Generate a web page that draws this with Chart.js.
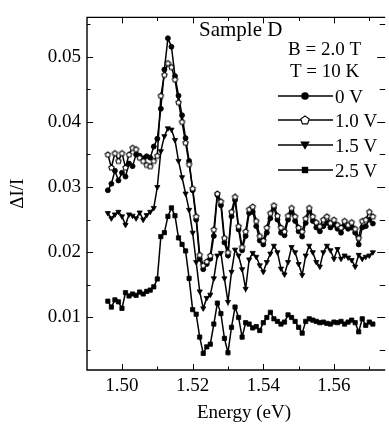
<!DOCTYPE html>
<html><head><meta charset="utf-8">
<script src="https://cdn.jsdelivr.net/npm/chart.js@4/dist/chart.umd.min.js"></script>
<style>html,body{margin:0;padding:0;background:#fff;overflow:hidden}canvas{display:block}</style>
</head><body>
<canvas id="c" width="389" height="425"></canvas>
<script>
// ---- data ----
const energies = [
1.496,1.497,1.498,1.499,1.500,1.501,1.502,1.503,1.504,1.505,
1.506,1.507,1.508,1.509,1.510,1.511,1.512,1.513,1.514,1.515,
1.516,1.517,1.518,1.519,1.520,1.521,1.522,1.523,1.524,1.525,
1.526,1.527,1.528,1.529,1.530,1.531,1.532,1.533,1.534,1.535,
1.536,1.537,1.538,1.539,1.540,1.541,1.542,1.543,1.544,1.545,
1.546,1.547,1.548,1.549,1.550,1.551,1.552,1.553,1.554,1.555,
1.556,1.557,1.558,1.559,1.560,1.561,1.562,1.563,1.564,1.565,
1.566,1.567,1.568,1.569,1.570,1.571];
const v0V = [
0.0295,0.0305,0.0325,0.0310,0.0322,0.0316,0.0336,0.0332,0.0350,0.0348,
0.0344,0.0347,0.0345,0.0362,0.0374,0.0420,0.0480,0.0528,0.0515,0.0470,
0.0440,0.0410,0.0375,0.0340,0.0295,0.0250,0.0190,0.0174,0.0182,0.0190,
0.0225,0.0288,0.0272,0.0215,0.0195,0.0255,0.0280,0.0235,0.0203,0.0225,
0.0260,0.0262,0.0240,0.0218,0.0212,0.0230,0.0252,0.0268,0.0250,0.0230,
0.0226,0.0250,0.0262,0.0248,0.0232,0.0224,0.0245,0.0263,0.0248,0.0238,
0.0232,0.0240,0.0245,0.0238,0.0242,0.0236,0.0230,0.0240,0.0236,0.0238,
0.0230,0.0212,0.0238,0.0240,0.0250,0.0244];
const v1_0V = [
0.0350,0.0330,0.0352,0.0340,0.0352,0.0330,0.0350,0.0360,0.0358,0.0345,
0.0340,0.0334,0.0332,0.0340,0.0348,0.0440,0.0472,0.0490,0.0484,0.0465,
0.0430,0.0400,0.0368,0.0335,0.0298,0.0255,0.0196,0.0180,0.0186,0.0195,
0.0235,0.0290,0.0278,0.0222,0.0200,0.0262,0.0285,0.0240,0.0208,0.0232,
0.0266,0.0270,0.0248,0.0225,0.0218,0.0238,0.0260,0.0272,0.0256,0.0238,
0.0232,0.0256,0.0268,0.0255,0.0238,0.0232,0.0252,0.0268,0.0255,0.0246,
0.0240,0.0250,0.0255,0.0245,0.0250,0.0242,0.0238,0.0248,0.0242,0.0246,
0.0236,0.0222,0.0248,0.0250,0.0262,0.0255];
const v1_5V = [
0.0260,0.0252,0.0258,0.0262,0.0255,0.0242,0.0258,0.0256,0.0252,0.0261,
0.0250,0.0257,0.0262,0.0268,0.0300,0.0355,0.0378,0.0390,0.0388,0.0372,
0.0340,0.0315,0.0290,0.0265,0.0230,0.0185,0.0140,0.0114,0.0130,0.0135,
0.0160,0.0195,0.0199,0.0160,0.0124,0.0170,0.0204,0.0195,0.0174,0.0144,
0.0189,0.0199,0.0193,0.0180,0.0170,0.0185,0.0198,0.0210,0.0200,0.0175,
0.0166,0.0185,0.0208,0.0200,0.0182,0.0165,0.0195,0.0210,0.0200,0.0185,
0.0178,0.0200,0.0210,0.0203,0.0190,0.0205,0.0190,0.0195,0.0192,0.0188,
0.0178,0.0196,0.0190,0.0193,0.0195,0.0200];
const v2_5V = [
0.0125,0.0116,0.0127,0.0124,0.0114,0.0138,0.0133,0.0136,0.0134,0.0139,
0.0136,0.0140,0.0142,0.0147,0.0159,0.0224,0.0230,0.0255,0.0268,0.0256,
0.0222,0.0212,0.0202,0.0160,0.0112,0.0105,0.0070,0.0045,0.0055,0.0059,
0.0090,0.0122,0.0106,0.0068,0.0046,0.0085,0.0116,0.0100,0.0070,0.0092,
0.0090,0.0084,0.0086,0.0080,0.0092,0.0100,0.0108,0.0098,0.0094,0.0090,
0.0093,0.0104,0.0100,0.0094,0.0085,0.0076,0.0094,0.0098,0.0096,0.0094,
0.0092,0.0093,0.0091,0.0090,0.0093,0.0092,0.0094,0.0090,0.0093,0.0096,
0.0092,0.0078,0.0098,0.0088,0.0093,0.0090];
const seriesLabels = ['0 V','1.0 V','1.5 V','2.5 V'];
const xTickValues = [1.50,1.51,1.52,1.53,1.54,1.55,1.56,1.57];
const xTickLabels = ['1.50','','1.52','','1.54','','1.56',''];
const yTickValues = [0.005,0.010,0.015,0.020,0.025,0.030,0.035,0.040,0.045,0.050,0.055];
const yTickLabels = ['','0.01','','0.02','','0.03','','0.04','','0.05',''];
const xTitle = 'Energy (eV)';
const yTitle = 'ΔI/I';
const annotations = ['Sample D','B = 2.0 T','T = 10 K'];

// ---- styling ----
const FONT = "'Liberation Serif','Times New Roman',serif";
Chart.defaults.font.family = FONT;
Chart.defaults.color = '#000';

function pentagon(r){
  const s = Math.ceil(2*r+3);
  const c = document.createElement('canvas'); c.width = s; c.height = s;
  const g = c.getContext('2d');
  g.beginPath();
  for(let k=0;k<5;k++){const a=-Math.PI/2+k*2*Math.PI/5;const px=s/2+r*Math.cos(a),py=s/2+0.3+r*Math.sin(a);k?g.lineTo(px,py):g.moveTo(px,py);}
  g.closePath(); g.fillStyle='#fff'; g.fill(); g.lineWidth=1.1; g.strokeStyle='#000'; g.stroke();
  return c;
}
const pentSmall = pentagon(2.8), pentBig = pentagon(4.4);

const pts = v => energies.map((e,i)=>({x:e,y:v[i]}));
const base = {borderColor:'#000',backgroundColor:'#000',borderWidth:1.5,tension:0,pointBorderWidth:0.8,pointBorderColor:'#000',pointHoverRadius:0};
const datasets = [
  Object.assign({},base,{label:seriesLabels[0],data:pts(v0V),pointStyle:'circle',pointRadius:2.5,pointBackgroundColor:'#000',order:1}),
  Object.assign({},base,{label:seriesLabels[1],data:pts(v1_0V),pointStyle:pentSmall,pointRadius:3,order:0}),
  Object.assign({},base,{label:seriesLabels[2],data:pts(v1_5V),pointStyle:'triangle',pointRotation:180,pointRadius:3,pointBackgroundColor:'#000',order:2}),
  Object.assign({},base,{label:seriesLabels[3],data:pts(v2_5V),pointStyle:'rect',pointRadius:3,pointBackgroundColor:'#000',order:3})
];

const frameTicks = {
  id:'frameTicks',
  afterDraw(chart){
    const {ctx, chartArea:a, scales:{x,y}} = chart;
    ctx.save();
    ctx.strokeStyle='#000'; ctx.lineWidth=1.4;
    ctx.beginPath();
    ctx.moveTo(a.right, a.top); ctx.lineTo(a.left, a.top); ctx.lineTo(a.left, a.bottom); ctx.lineTo(a.right, a.bottom);
    ctx.stroke();
    ctx.lineWidth=1;
    xTickValues.forEach((v,i)=>{
      const px = Math.round(x.getPixelForValue(v))+0.5; const L = xTickLabels[i]?6:3.5;
      ctx.beginPath(); ctx.moveTo(px,a.bottom); ctx.lineTo(px,a.bottom-L);
      ctx.moveTo(px,a.top); ctx.lineTo(px,a.top+L); ctx.stroke();
    });
    yTickValues.forEach((v,i)=>{
      const py = Math.round(y.getPixelForValue(v))+0.5; const L = yTickLabels[i]?6:3.5;
      ctx.beginPath(); ctx.moveTo(a.left,py); ctx.lineTo(a.left+L,py);
      ctx.moveTo(a.right,py); ctx.lineTo(a.right-L-2,py); ctx.stroke();
    });
    // x title
    ctx.fillStyle='#000'; ctx.textAlign='center'; ctx.textBaseline='alphabetic';
    ctx.font = '19px '+FONT;
    ctx.fillText(xTitle, 244, 418);
    // annotations
    ctx.textAlign='left';
    ctx.font = '21px '+FONT; ctx.fillText(annotations[0], 199, 36);
    ctx.font = '19px '+FONT;
    ctx.fillText(annotations[1], 288, 55);
    ctx.fillText(annotations[2], 290, 77);
    // legend
    const rows = [96,120,145,170];
    rows.forEach((ly,i)=>{
      ctx.strokeStyle='#000'; ctx.lineWidth=1.6;
      ctx.beginPath(); ctx.moveTo(278,ly); ctx.lineTo(333,ly); ctx.stroke();
      const mx=305;
      ctx.fillStyle='#000';
      if(i===0){ctx.beginPath(); ctx.arc(mx,ly,3.8,0,Math.PI*2); ctx.fill();}
      else if(i===1){ctx.drawImage(pentBig, mx-pentBig.width/2, ly-pentBig.height/2);}
      else if(i===2){ctx.beginPath(); ctx.moveTo(mx-4.8,ly-3.5); ctx.lineTo(mx+4.8,ly-3.5); ctx.lineTo(mx,ly+4.8); ctx.closePath(); ctx.fill();}
      else {ctx.fillRect(mx-3.2,ly-3.2,6.4,6.4);}
      ctx.fillStyle='#000'; ctx.font='19px '+FONT;
      ctx.fillText(seriesLabels[i], 335, ly+6.5);
    });
    ctx.restore();
  }
};

new Chart(document.getElementById('c'), {
  type:'line',
  data:{datasets},
  options:{
    responsive:false, animation:false, devicePixelRatio:1,
    layout:{padding:{top:9,right:0,left:0,bottom:0}},
    plugins:{legend:{display:false},tooltip:{enabled:false}},
    scales:{
      x:{type:'linear',min:1.4901,max:1.5745,
        grid:{display:false,drawTicks:false},border:{display:false},
        afterBuildTicks:s=>{s.ticks = xTickValues.map(v=>({value:v}));},
        afterFit:s=>{s.height=55;},
        ticks:{padding:5,autoSkip:false,maxRotation:0,font:{size:19},color:'#000',
          callback:(v,i)=>xTickLabels[i]}
      },
      y:{type:'linear',min:0.00195,max:0.0560,
        grid:{display:false,drawTicks:false},border:{display:false},
        afterBuildTicks:s=>{s.ticks = yTickValues.map(v=>({value:v}));},
        afterFit:s=>{s.width=87;},
        ticks:{padding:6,autoSkip:false,font:{size:19},color:'#000',
          callback:(v,i)=>yTickLabels[i]},
        title:{display:true,text:yTitle,font:{size:19},color:'#000',padding:{top:7,bottom:0}}
      }
    }
  },
  plugins:[frameTicks]
});
</script>
</body></html>
